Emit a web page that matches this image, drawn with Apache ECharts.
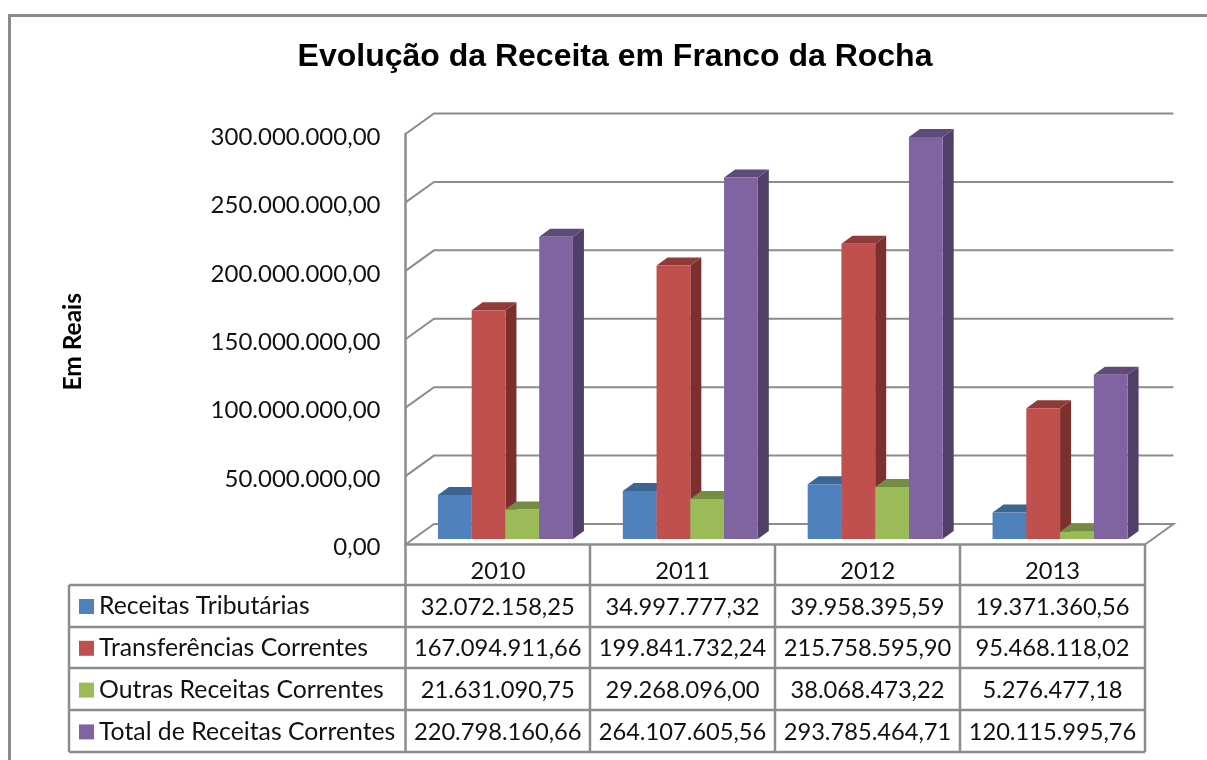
<!DOCTYPE html>
<html><head><meta charset="utf-8">
<style>html,body{margin:0;padding:0;background:#fff}#c{width:1207px;height:760px}</style>
<script src="https://cdn.jsdelivr.net/npm/echarts@6/dist/echarts.min.js"></script>
</head><body><div id="c"></div>
<script>
var years = ['2010','2011','2012','2013'];
var receitasTributarias = [32072158.25, 34997777.32, 39958395.59, 19371360.56];
var transferenciasCorrentes = [167094911.66, 199841732.24, 215758595.90, 95468118.02];
var outrasReceitasCorrentes = [21631090.75, 29268096.00, 38068473.22, 5276477.18];
var totalReceitasCorrentes = [220798160.66, 264107605.56, 293785464.71, 120115995.76];
var seriesNames = ['Receitas Tributárias','Transferências Correntes','Outras Receitas Correntes','Total de Receitas Correntes'];
var yTicks = [0, 50000000, 100000000, 150000000, 200000000, 250000000, 300000000];

var allValues = [receitasTributarias, transferenciasCorrentes, outrasReceitasCorrentes, totalReceitasCorrentes];
var fronts = ['#4f81bd','#c0504d','#9bbb59','#8064a2'];
var tops   = ['#3c6593','#8f3b39','#748d43','#5f4a7a'];
var sides  = ['#345679','#7d2f2d','#637a39','#503f68'];
var GRID = '#8c8c8c', FONT = 'Lato', TXT = '#111';
var WALL_DX = 28.5, WALL_DY = -20.5, BAR_DX = 7.5, BAR_DY = -5.5, DEPTH_X = 11, DEPTH_Y = -8, BAR_W = 33.75;

function fmt(v){
  var p = v.toFixed(2).split('.');
  return p[0].replace(/\B(?=(\d{3})+$)/g,'.') + ',' + p[1];
}
function poly(pts, fill){
  return {type:'polygon', shape:{points:pts}, style:{fill:fill, stroke:null}};
}
function barRender(si){
  return function(params, api){
    var c = api.coord([api.value(0), api.value(1)]);
    var b = api.coord([api.value(0), 0]);
    var x0 = c[0] + BAR_DX + (si - 2) * BAR_W, x1 = x0 + BAR_W;
    var yT = c[1] + BAR_DY, yB = b[1] + BAR_DY;
    return {type:'group', children:[
      poly([[x1,yT],[x1+DEPTH_X,yT+DEPTH_Y],[x1+DEPTH_X,yB+DEPTH_Y],[x1,yB]], sides[si]),
      poly([[x0,yT],[x0+DEPTH_X,yT+DEPTH_Y],[x1+DEPTH_X,yT+DEPTH_Y],[x1,yT]], tops[si]),
      poly([[x0,yT],[x1,yT],[x1,yB],[x0,yB]], fronts[si])
    ]};
  };
}
function wallRender(params, api){
  var cs = params.coordSys, v = api.value(1), y = api.coord([0, v])[1];
  var L = cs.x, R = cs.x + cs.width, pts = [[L,y],[L+WALL_DX,y+WALL_DY],[R+WALL_DX,y+WALL_DY]];
  if (v === 0) pts.push([R,y]);
  return {type:'polyline', shape:{points:pts}, style:{stroke:GRID, lineWidth:2, fill:null}};
}

var series = [{
  type:'custom', name:'_wall', silent:true, clip:false, z:1,
  renderItem:wallRender, encode:{x:0,y:1},
  data:yTicks.map(function(t){return [0,t];})
}];
allValues.forEach(function(vals, si){
  series.push({
    type:'custom', name:seriesNames[si], clip:false, z:2+si,
    itemStyle:{color:fronts[si]},
    renderItem:barRender(si), encode:{x:0,y:1},
    data:vals.map(function(v,i){return [i,v];})
  });
});

// data table
var colX = [405.5,590,775,960,1145], rowY = [585,627,668,710,752], tableL = 69, headTop = 545;
var graphics = [];
function ln(x1,y1,x2,y2,w,col){
  graphics.push({type:'line', silent:true, z:20, shape:{x1:x1,y1:y1,x2:x2,y2:y2}, style:{stroke:col||GRID, lineWidth:w||2.5}});
}
ln(9.5,15.5,1207,15.5,3,'#8a8a8a');
ln(9.5,14,9.5,760,3,'#8a8a8a');
rowY.forEach(function(y){ ln(tableL,y,1145,y); });
ln(tableL,rowY[0],tableL,rowY[4]);
colX.forEach(function(x){ ln(x,headTop,x,rowY[4]); });
allValues.forEach(function(vals,r){
  vals.forEach(function(v,c){
    graphics.push({type:'text', silent:true, z:21, style:{
      x:(colX[c]+colX[c+1])/2, y:(rowY[r]+rowY[r+1])/2 + 1, text:fmt(v),
      align:'center', verticalAlign:'middle', fill:TXT, font:'23.7px '+FONT}});
  });
});

var chart = echarts.init(document.getElementById('c'), null, {renderer:'canvas'});
chart.setOption({
  animation:false,
  backgroundColor:'#fff',
  title:{text:'Evolução da Receita em Franco da Rocha', left:610, top:36, textAlign:'center',
    textStyle:{fontFamily:'Liberation Sans', fontWeight:'bold', fontSize:32, color:'#000'}},
  legend:{orient:'vertical', left:79, top:594, padding:0, itemWidth:15, itemHeight:15, itemGap:16.8,
    icon:'rect', selectedMode:false, data:seriesNames,
    textStyle:{fontFamily:FONT, fontSize:24.8, color:TXT}},
  grid:{left:405.5, right:62, top:134, bottom:215.5},
  xAxis:{type:'category', data:years, boundaryGap:true,
    axisLine:{lineStyle:{color:GRID,width:2.5}}, axisTick:{show:false},
    axisLabel:{margin:15, fontFamily:FONT, fontSize:23.7, color:TXT}},
  yAxis:{type:'value', min:0, max:300000000, interval:50000000,
    name:'Em Reais', nameLocation:'middle', nameGap:320, nameRotate:90,
    nameTextStyle:{fontFamily:FONT, fontWeight:'bold', fontSize:24.5, color:'#000', padding:[0,5,0,0]},
    axisLine:{show:true, lineStyle:{color:GRID,width:2.5}}, axisTick:{show:false}, splitLine:{show:false},
    axisLabel:{margin:25, verticalAlign:'top', lineHeight:6, fontFamily:FONT, fontSize:24, color:TXT, formatter:function(v){return fmt(v);}}},
  series:series,
  graphic:graphics
});
</script></body></html>
